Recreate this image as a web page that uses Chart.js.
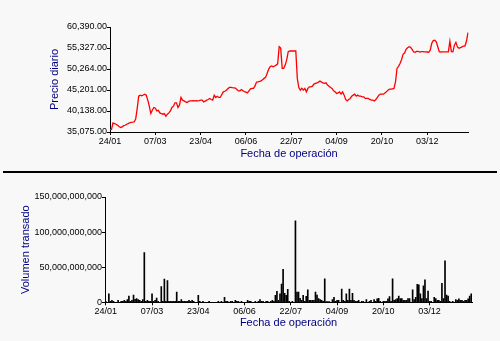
<!DOCTYPE html>
<html>
<head>
<meta charset="utf-8">
<script src="https://cdn.jsdelivr.net/npm/chart.js@4.4.0/dist/chart.umd.min.js"></script>
<style>
  html, body { margin: 0; padding: 0; background: #f8f8f8; }
  #wrap { position: relative; width: 500px; height: 341px; overflow: hidden; background: #f8f8f8; }
  #c1 { position: absolute; left: 0; top: 0; }
  #c2 { position: absolute; left: 0; top: 172px; }
  #sep { position: absolute; left: 3px; top: 171px; width: 494px; height: 2px; background: #000; }
</style>
</head>
<body>
<div id="wrap">
  <canvas id="c1" width="500" height="172"></canvas>
  <div id="sep"></div>
  <canvas id="c2" width="500" height="169"></canvas>
</div>
<script>
// Date labels shown on the x axes, one every 30 trading days
const tickLabels = ['24/01', '07/03', '23/04', '06/06', '22/07', '04/09', '20/10', '03/12'];
const tickEvery = 30;

// Daily closing price
const price = [
  35650, 35700, 37250, 37100, 36950, 36700, 36400, 36150, 36300, 36600,
  36700, 36950, 37100, 37300, 37420, 37450, 37500, 38220, 40700, 43700,
  43950, 43800, 44000, 44200, 43950, 42750, 41300, 39530, 40330, 40980,
  40800, 40160, 40300, 39670, 39500, 39360, 39500, 38880, 39360, 39680,
  40160, 40980, 41300, 42090, 42090, 41000, 41540, 43400, 42750, 42580,
  42340, 42200, 42450, 42580, 42580, 42650, 42580, 42650, 42580, 42650,
  42750, 42750, 42340, 42500, 42750, 42910, 43150, 42900, 42750, 43950,
  43400, 43700, 43400, 43400, 44100, 44750, 44900, 45160, 45500, 45820,
  45820, 45750, 45700, 45650, 45300, 45000, 45000, 45300, 45000, 44800,
  44680, 44500, 45000, 45500, 45600, 45600, 46200, 47100, 47150, 47250,
  47400, 47700, 48000, 48240, 49200, 50170, 50800, 51000, 50800, 51000,
  51200, 51500, 55640, 55300, 50420, 50420, 51200, 52500, 54430, 54600,
  54600, 54600, 54600, 54600, 48000, 45800, 45170, 45600, 45170, 45580,
  44760, 45580, 45970, 45970, 46130, 46620, 46790, 46900, 47100, 47350,
  47100, 46930, 46790, 46930, 46380, 46130, 45800, 45580, 45000, 44760,
  44370, 44510, 44760, 44200, 44760, 43960, 42920, 42580, 42900, 43160,
  43710, 43960, 44200, 43710, 43960, 43710, 43710, 43550, 43550, 43160,
  43160, 43160, 42920, 42750, 42750, 42580, 42920, 43400, 43960, 44200,
  44200, 44200, 44500, 44750, 45160, 45400, 45400, 45500, 45580, 47170,
  50410, 50900, 51600, 52500, 53800, 54100, 55000, 55400, 55640, 55500,
  55000, 54360, 54300, 54500, 54500, 54360, 54450, 54450, 54400, 54400,
  54360, 54300, 54800, 56470, 57100, 57200, 56800, 55640, 54440, 54360,
  54400, 54400, 54400, 54400, 54400, 56950, 54440, 54400, 56000, 56700,
  55600, 55260, 55400, 55600, 55800, 55800, 57000, 59040
];

// Daily traded volume, in thousands of millions
const volumeBn = [
  1.5, 0, 11.9, 1.5, 2.9, 1.5, 0, 0, 2.9, 0,
  1.4, 1.4, 2.9, 1.4, 3.8, 9, 1.4, 2.9, 10.4, 4.3,
  5.2, 3.8, 2.9, 1.4, 3.8, 70.9, 1.4, 2.9, 1.4, 1.4,
  11.9, 1.4, 2.9, 6.1, 1.4, 0, 22.3, 1.4, 32.9, 1.4,
  30.9, 1.4, 1.4, 1.4, 1.4, 1.4, 14.7, 1.4, 1.4, 3.8,
  1.4, 1.4, 1.4, 1.4, 2.9, 1.4, 2.9, 1.4, 0, 0,
  10, 1.4, 0, 1.4, 0, 0, 0, 1.4, 0, 0,
  0, 0, 0, 1.4, 0, 1.4, 0, 7.1, 1.4, 1.4,
  0, 1.4, 1.4, 0, 2.9, 1.4, 1.4, 0, 1.4, 0,
  0, 0, 2.9, 1.4, 1.4, 0, 0, 1.4, 0, 1.4,
  3.8, 1.4, 1.4, 0, 1.4, 1.4, 0, 1.4, 2.9, 1.4,
  10, 15.7, 2.9, 11.9, 26.1, 47.1, 12.8, 10, 18.6, 1.4,
  0, 1.4, 0, 116.1, 14.7, 14.7, 5.7, 2.9, 10, 1.4,
  8.6, 17.6, 2.9, 2.9, 2.9, 2.9, 14.7, 10.4, 5.2, 3.8,
  2.9, 1.4, 33.3, 1, 1, 1, 0, 3.8, 7.1, 1.4,
  2.9, 2.9, 0, 19, 2.9, 1.4, 11.9, 2.9, 19, 2.9,
  12.8, 2.9, 1.4, 1.4, 2.9, 0, 1.4, 1.4, 0, 3.8,
  0, 1.4, 2.9, 0, 3.8, 1.4, 4.8, 5.7, 1.4, 0,
  1.4, 1.4, 1.4, 4.8, 8, 1.4, 33.3, 2.9, 3.8, 5.2,
  9, 5.2, 5.2, 2.9, 2.9, 2.9, 5.2, 5.2, 0, 17.6,
  3.8, 7.1, 25.7, 25, 11.9, 5.2, 23.3, 31.9, 5.2, 16.1,
  1.4, 1.4, 0, 7.1, 5.2, 2.9, 2.9, 1.4, 27.1, 5.2,
  59, 10.4, 9, 1.4, 0, 1.4, 0, 3.8, 2.9, 4.8,
  2.9, 2.9, 1.4, 2.9, 2.9, 4.8, 9, 11.9
];

// Price axis bounds and step
const priceMin = 35075, priceMax = 60390, priceStep = 5063;
// Volume axis bounds and step
const volMax = 150e9, volStep = 50e9;

const categories = price.map((_, i) => (i % tickEvery === 0 ? tickLabels[i / tickEvery] : ''));
const volume = volumeBn.map(v => v * 1e9);

const tickFont = { family: "'Liberation Sans', Arial, sans-serif", size: 9 };
const titleFont = { family: "'Liberation Sans', Arial, sans-serif", size: 11 };
const titleColor = '#000080';

function fmt(v, d) {
  return v.toLocaleString('en-US', { minimumFractionDigits: d, maximumFractionDigits: d });
}

function xAxis(height, offsetGrid) {
  return {
    type: 'category',
    offset: offsetGrid,
    afterFit: s => { s.height = height; },
    border: { display: true, color: '#000', width: 1 },
    grid: { display: true, drawOnChartArea: false, drawTicks: true, tickLength: 3, color: '#000', offset: false },
    ticks: {
      autoSkip: false, maxRotation: 0, minRotation: 0, padding: 1,
      color: '#000', font: tickFont,
      callback: (v, i) => categories[i] ? categories[i] : null
    },
    title: { display: true, text: 'Fecha de operación', color: titleColor, font: titleFont, padding: { top: 0, bottom: 11 } }
  };
}

Chart.defaults.animation = false;

new Chart(document.getElementById('c1'), {
  type: 'line',
  data: {
    labels: categories,
    datasets: [{
      data: price,
      borderColor: '#ff0000',
      borderWidth: 1.3,
      pointRadius: 0,
      tension: 0,
      fill: false
    }]
  },
  options: {
    responsive: false,
    devicePixelRatio: 1,
    animation: false,
    layout: { padding: { left: 44, top: 27, right: 32, bottom: 0 } },
    plugins: { legend: { display: false }, tooltip: { enabled: false } },
    scales: {
      x: xAxis(40, false),
      y: {
        min: priceMin, max: priceMax,
        afterFit: s => { s.width = 66; },
        border: { display: true, color: '#000', width: 1 },
        grid: { display: true, drawOnChartArea: false, drawTicks: true, tickLength: 3, color: '#000' },
        ticks: { stepSize: priceStep, padding: 0, color: '#000', font: tickFont, callback: v => fmt(v, 2) },
        title: { display: true, text: 'Precio diario', color: titleColor, font: titleFont, padding: { top: 4, bottom: 0 } }
      }
    }
  }
});

new Chart(document.getElementById('c2'), {
  type: 'bar',
  data: {
    labels: categories,
    datasets: [{
      data: volume,
      backgroundColor: '#000',
      borderWidth: 0,
      barThickness: 1
    }]
  },
  options: {
    responsive: false,
    devicePixelRatio: 1,
    animation: false,
    layout: { padding: { left: 15, top: 25, right: 28, bottom: 0 } },
    plugins: { legend: { display: false }, tooltip: { enabled: false } },
    scales: {
      x: xAxis(38.7, true),
      y: {
        min: 0, max: volMax,
        afterFit: s => { s.width = 90; },
        border: { display: true, color: '#000', width: 1 },
        grid: { display: true, drawOnChartArea: false, drawTicks: true, tickLength: 3, color: '#000' },
        ticks: { stepSize: volStep, padding: 0, color: '#000', font: tickFont, callback: v => fmt(v, 0) },
        title: { display: true, text: 'Volumen transado', color: titleColor, font: titleFont, padding: { top: 4, bottom: 0 } }
      }
    }
  }
});
</script>
</body>
</html>
